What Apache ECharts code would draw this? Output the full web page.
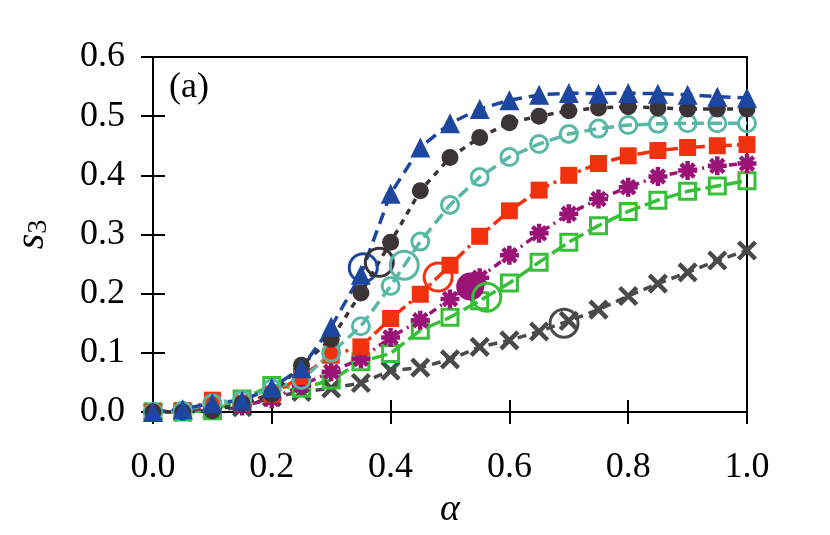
<!DOCTYPE html>
<html>
<head>
<meta charset="utf-8">
<script src="https://cdn.jsdelivr.net/npm/echarts@6/dist/echarts.min.js"></script>
<style>
  html, body { margin: 0; padding: 0; background: #fff; }
  #chart { width: 830px; height: 535px; }
</style>
</head>
<body>
<div id="chart"></div>
<script>
// alpha values on the x axis
const alpha = [0.00, 0.05, 0.10, 0.15, 0.20, 0.25, 0.30, 0.35, 0.40, 0.45, 0.50,
               0.55, 0.60, 0.65, 0.70, 0.75, 0.80, 0.85, 0.90, 0.95, 1.00];

// s3 for each curve
const blueTri = [0.000, 0.005, 0.015, 0.019, 0.041, 0.074, 0.144, 0.232, 0.369, 0.447, 0.488,
                 0.512, 0.527, 0.536, 0.539, 0.538, 0.539, 0.538, 0.536, 0.533, 0.531];
const darkDot = [0.000, 0.000, 0.002, 0.014, 0.030, 0.079, 0.123, 0.201, 0.287, 0.374, 0.430,
                 0.464, 0.489, 0.500, 0.509, 0.514, 0.516, 0.514, 0.512, 0.512, 0.512];
const tealRing = [0.000, 0.002, 0.015, 0.020, 0.040, 0.054, 0.100, 0.145, 0.213, 0.288, 0.350,
                  0.397, 0.431, 0.453, 0.470, 0.479, 0.485, 0.487, 0.488, 0.488, 0.488];
const redSq = [0.000, 0.002, 0.020, 0.015, 0.030, 0.060, 0.096, 0.110, 0.158, 0.199, 0.248,
               0.297, 0.340, 0.375, 0.400, 0.420, 0.433, 0.442, 0.447, 0.450, 0.452];
const purpleStar = [0.000, 0.002, 0.008, 0.010, 0.022, 0.045, 0.068, 0.090, 0.126, 0.155, 0.191,
                    0.227, 0.265, 0.302, 0.335, 0.360, 0.380, 0.398, 0.408, 0.416, 0.420];
const greenSq = [0.000, 0.000, 0.002, 0.022, 0.045, 0.040, 0.054, 0.085, 0.099, 0.138, 0.160,
                 0.188, 0.218, 0.253, 0.287, 0.315, 0.339, 0.358, 0.373, 0.382, 0.391];
const grayCross = [0.000, 0.000, 0.003, 0.008, 0.025, 0.034, 0.040, 0.049, 0.070, 0.075, 0.089,
                   0.110, 0.121, 0.136, 0.154, 0.173, 0.196, 0.217, 0.236, 0.256, 0.273];

// the big marked point on each curve (same order as markColors below)
const markX = [0.354, 0.381, 0.423, 0.480, 0.534, 0.562, 0.692];
const markY = [0.244, 0.253, 0.248, 0.228, 0.212, 0.194, 0.150];

const xTicks = [0.0, 0.2, 0.4, 0.6, 0.8, 1.0];
const yTicks = [0.0, 0.1, 0.2, 0.3, 0.4, 0.5, 0.6];

const colors = {
    blue: '#1c46a0',
    dark: '#3a3437',
    teal: '#58b7a6',
    red: '#f2320e',
    purple: '#9a1377',
    green: '#38bf3a',
    gray: '#4a4a4a'
};

const font = 'Liberation Serif';
const pair = ys => alpha.map((x, i) => [x, ys[i]]);

const asterisk = 'path://M0,-10L0,10M-10,0L10,0M-7,-7L7,7M-7,7L7,-7';
const cross = 'path://M-10,-10L10,10M-10,10L10,-10';

function curve(name, ys, color, dash, symbol, size, hollow, width) {
    let itemStyle = { color: color };
    if (hollow) {
        itemStyle = { color: 'rgba(0,0,0,0)', borderColor: color, borderWidth: width || 2.5 };
    }
    return {
        name: name,
        type: 'line',
        data: pair(ys),
        symbol: symbol,
        symbolSize: size,
        showAllSymbol: true,
        lineStyle: { color: color, width: 3.5, type: dash },
        itemStyle: itemStyle,
        animation: false
    };
}

const markColors = [colors.blue, colors.dark, colors.teal, colors.red, colors.purple, colors.green, colors.gray];

const chart = echarts.init(document.getElementById('chart'));

chart.setOption({
    backgroundColor: '#fff',
    animation: false,
    grid: {
        left: 153,
        right: 83,
        top: 57,
        bottom: 123,
        show: true,
        borderColor: '#000',
        borderWidth: 2
    },
    graphic: [{
        type: 'text',
        left: 169,
        top: 70,
        style: { text: '(a)', font: '36px "' + font + '"', fill: '#000' }
    }],
    xAxis: [{
        type: 'value',
        min: 0,
        max: 1,
        interval: 0.2,
        name: 'α',
        nameLocation: 'middle',
        nameGap: 76,
        nameTextStyle: { fontFamily: font, fontStyle: 'italic', fontSize: 38, color: '#000' },
        axisLine: { show: true, lineStyle: { color: '#000', width: 2 } },
        axisTick: { show: true, inside: true, length: 12, lineStyle: { color: '#000', width: 2 } },
        axisLabel: {
            margin: 38,
            fontFamily: font,
            fontSize: 36,
            color: '#000',
            formatter: v => xTicks.find(t => Math.abs(t - v) < 1e-6) !== undefined ? v.toFixed(1) : ''
        },
        splitLine: { show: false }
    }, {
        type: 'value',
        position: 'top',
        min: 0,
        max: 1,
        interval: 0.2,
        axisLine: { show: false },
        axisTick: { show: true, inside: true, length: 12, lineStyle: { color: '#000', width: 2 } },
        axisLabel: { show: false },
        splitLine: { show: false }
    }],
    yAxis: [{
        type: 'value',
        min: 0,
        max: 0.6,
        interval: 0.1,
        name: '{s|s}{sub|3}',
        nameLocation: 'middle',
        nameRotate: 90,
        nameGap: 100,
        nameTextStyle: {
            rich: {
                s: { fontFamily: font, fontStyle: 'italic', fontSize: 40, color: '#000' },
                sub: { fontFamily: font, fontSize: 28, color: '#000', padding: [14, 0, 0, 0] }
            }
        },
        axisLine: { show: true, lineStyle: { color: '#000', width: 2 } },
        axisTick: { show: true, inside: true, length: 12, lineStyle: { color: '#000', width: 2 } },
        axisLabel: {
            margin: 28,
            fontFamily: font,
            fontSize: 36,
            color: '#000',
            formatter: v => yTicks.find(t => Math.abs(t - v) < 1e-6) !== undefined ? v.toFixed(1) : ''
        },
        splitLine: { show: false }
    }, {
        type: 'value',
        position: 'right',
        min: 0,
        max: 0.6,
        interval: 0.1,
        axisLine: { show: false },
        axisTick: { show: true, inside: true, length: 12, lineStyle: { color: '#000', width: 2 } },
        axisLabel: { show: false },
        splitLine: { show: false }
    }],
    series: [
        curve('gray', grayCross, colors.gray, [9, 6], cross, 17, true, 4.5),
        curve('green', greenSq, colors.green, [16, 5], 'rect', 16, true, 3),
        curve('purple', purpleStar, colors.purple, [8, 5, 2, 5], asterisk, 19, true, 4.5),
        curve('red', redSq, colors.red, [14, 5, 3, 5], 'rect', 17, false),
        curve('teal', tealRing, colors.teal, [12, 6], 'circle', 17, true, 3),
        curve('dark', darkDot, colors.dark, [6, 6], 'circle', 17, false),
        curve('blue', blueTri, colors.blue, [12, 7], 'triangle', 20, false),
        {
            name: 'marks',
            type: 'scatter',
            data: markX.map((x, i) => ({
                value: [x, markY[i]],
                itemStyle: i === 4
                    ? { color: markColors[i], opacity: 1 }
                    : { color: 'rgba(0,0,0,0)', borderColor: markColors[i], borderWidth: 3, opacity: 1 }
            })),
            symbol: 'circle',
            symbolSize: 28,
            z: 5,
            animation: false
        }
    ]
});
</script>
</body>
</html>
